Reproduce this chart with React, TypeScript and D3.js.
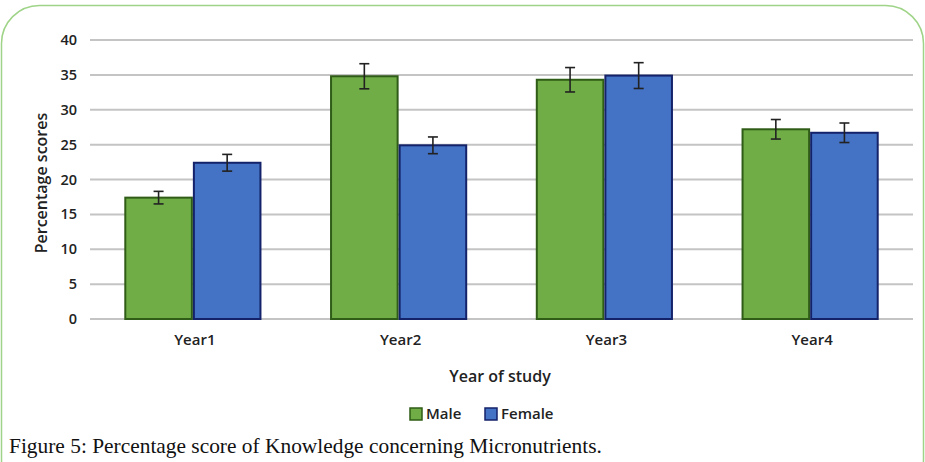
import React, { useEffect, useRef } from "react";
import * as d3 from "d3";

const years = ["Year1", "Year2", "Year3", "Year4"];
const series = ["Male", "Female"];
const maleScores = [17.4, 34.8, 34.3, 27.2];
const femaleScores = [22.4, 24.9, 34.9, 26.7];
const maleErr = [0.9, 1.8, 1.75, 1.4];
const femaleErr = [1.2, 1.2, 1.85, 1.4];
const yTicks = [0, 5, 10, 15, 20, 25, 30, 35, 40];

const fills = { Male: "#70ad47", Female: "#4472c4" };
const strokes = { Male: "#2f5c16", Female: "#14226a" };

export default function App() {
  const ref = useRef<SVGSVGElement>(null);

  useEffect(() => {
    const svg = d3.select(ref.current);
    svg.selectAll("*").remove();

    const W = 925, H = 462;
    const m = { top: 40, right: 12, bottom: 143, left: 90 };

    // frame
    svg.append("rect")
      .attr("x", 1.5).attr("y", 5.5)
      .attr("width", W - 3).attr("height", H + 30)
      .attr("rx", 38)
      .attr("fill", "#fff")
      .attr("stroke", "#9fd488")
      .attr("stroke-width", 1.5);

    const x = d3.scaleBand().domain(years).range([m.left, W - m.right]).paddingInner(0).paddingOuter(0);
    const xs = d3.scaleBand().domain(series).range([0, x.bandwidth()]).paddingInner(0).paddingOuter(0.5);
    const y = d3.scaleLinear().domain([0, 40]).range([H - m.bottom, m.top]);

    const fam = "'Open Sans', 'DejaVu Sans', sans-serif";
    const ink = "#222";
    const wt = 600;

    // grid
    svg.append("g").selectAll("line").data(yTicks).join("line")
      .attr("x1", m.left).attr("x2", W - m.right)
      .attr("y1", d => y(d)).attr("y2", d => y(d))
      .attr("stroke", "#c4c4c4").attr("stroke-width", 2);

    // y tick labels
    svg.append("g").selectAll("text").data(yTicks).join("text")
      .attr("x", 77).attr("y", d => y(d)).attr("dy", "0.35em")
      .attr("text-anchor", "end")
      .attr("font-family", fam).attr("font-size", 14.5).attr("font-weight", wt).attr("fill", ink)
      .text(d => d);

    const rows = years.map((yr, i) => ({
      yr,
      vals: [
        { s: "Male", v: maleScores[i], e: maleErr[i] },
        { s: "Female", v: femaleScores[i], e: femaleErr[i] },
      ],
    }));

    const g = svg.append("g").selectAll("g").data(rows).join("g")
      .attr("transform", d => `translate(${x(d.yr)},0)`);

    g.selectAll("rect").data(d => d.vals).join("rect")
      .attr("x", d => xs(d.s)! + 1)
      .attr("width", xs.bandwidth() - 2)
      .attr("y", d => y(d.v))
      .attr("height", d => y(0) - y(d.v))
      .attr("fill", d => fills[d.s as "Male"])
      .attr("stroke", d => strokes[d.s as "Male"])
      .attr("stroke-width", 2);

    // error bars
    const eb = g.selectAll("g.err").data(d => d.vals).join("g").attr("class", "err")
      .attr("stroke", "#222").attr("stroke-width", 1.6);
    eb.append("line")
      .attr("x1", d => xs(d.s)! + xs.bandwidth() / 2)
      .attr("x2", d => xs(d.s)! + xs.bandwidth() / 2)
      .attr("y1", d => y(d.v + d.e)).attr("y2", d => y(d.v - d.e));
    eb.append("line")
      .attr("x1", d => xs(d.s)! + xs.bandwidth() / 2 - 5)
      .attr("x2", d => xs(d.s)! + xs.bandwidth() / 2 + 5)
      .attr("y1", d => y(d.v + d.e)).attr("y2", d => y(d.v + d.e));
    eb.append("line")
      .attr("x1", d => xs(d.s)! + xs.bandwidth() / 2 - 5)
      .attr("x2", d => xs(d.s)! + xs.bandwidth() / 2 + 5)
      .attr("y1", d => y(d.v - d.e)).attr("y2", d => y(d.v - d.e));

    // category labels
    svg.append("g").selectAll("text").data(years).join("text")
      .attr("x", d => x(d)! + x.bandwidth() / 2 + 2).attr("y", 345)
      .attr("text-anchor", "middle")
      .attr("font-family", fam).attr("font-size", 15).attr("font-weight", wt).attr("fill", ink)
      .text(d => d);

    // axis titles
    svg.append("text")
      .attr("x", 500).attr("y", 382)
      .attr("text-anchor", "middle")
      .attr("font-family", fam).attr("font-size", 16).attr("font-weight", wt).attr("fill", ink)
      .text("Year of study");

    svg.append("text")
      .attr("transform", "translate(47,183) rotate(-90)")
      .attr("text-anchor", "middle")
      .attr("font-family", fam).attr("font-size", 16).attr("font-weight", wt).attr("fill", ink)
      .text("Percentage scores");

    // legend
    const leg = svg.append("g").selectAll("g").data(series).join("g")
      .attr("transform", (d, i) => `translate(${i === 0 ? 410 : 485},${408})`);
    leg.append("rect")
      .attr("width", 12).attr("height", 12)
      .attr("fill", d => fills[d as "Male"])
      .attr("stroke", d => strokes[d as "Male"]).attr("stroke-width", 1.5);
    leg.append("text")
      .attr("x", 16).attr("y", 6).attr("dy", "0.35em")
      .attr("font-family", fam).attr("font-size", 15).attr("font-weight", wt).attr("fill", ink)
      .text(d => d);

    // caption
    svg.append("text")
      .attr("x", 9).attr("y", 453)
      .attr("font-family", "'Liberation Serif', 'DejaVu Serif', serif")
      .attr("font-size", 21.4).attr("fill", "#111")
      .text("Figure 5: Percentage score of Knowledge concerning Micronutrients.");
  }, []);

  return (
    <svg
      ref={ref}
      width={925}
      height={462}
      style={{ position: "absolute", left: 0, top: 0, background: "#fff" }}
    />
  );
}
